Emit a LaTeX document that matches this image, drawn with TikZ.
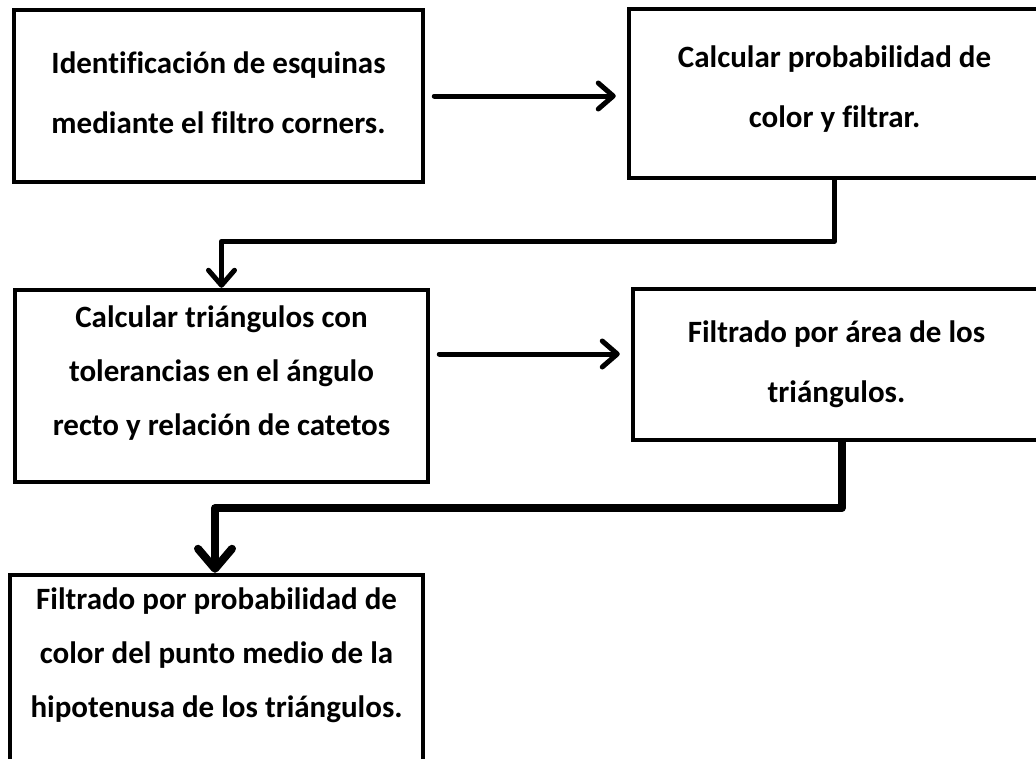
\documentclass[tikz,border=0pt]{standalone}
\usepackage{fontspec}
\setmainfont[Ligatures=NoCommon]{Carlito}
\usepackage{tikz}
\usetikzlibrary{arrows.meta,calc}

\begin{document}
\begin{tikzpicture}[x=1pt, y=-1pt,
        caja/.style={draw=black, line width=4.5pt, inner sep=0pt, align=center,
            font=\bfseries\fontsize{31}{60}\selectfont},
        flecha/.style={draw=black, line width=5pt, line cap=round, line join=round,
            -{Straight Barb[length=15pt, width=26pt, line cap=round, line join=round]}},
        flechagruesa/.style={flecha, line width=8pt, line cap=butt,
            -{Straight Barb[length=20pt, width=34pt, line cap=round, line join=round]}}]
        \useasboundingbox (0,0) rectangle (1036,758);
        \clip (0,0) rectangle (1036,758);
        % cajas
        \node [caja, minimum width=409pt, minimum height=172pt, text depth=6pt] (ident) at (218.5,96)
            {Identificación de esquinas\\mediante el filtro corners.};
        \node [caja, minimum width=411pt, minimum height=169pt, text depth=14pt] (prob) at (834.5,93.5)
            {Calcular probabilidad de\\color y filtrar.};
        \node [caja, minimum width=413pt, minimum height=192pt, text depth=31pt,
            font=\bfseries\fontsize{31}{54}\selectfont] (tri) at (221.5,386)
            {Calcular triángulos con\\tolerancias en el ángulo\\recto y relación de catetos};
        \node [caja, minimum width=407pt, minimum height=151pt] (area) at (836.5,364.5)
            {Filtrado por área de los\\triángulos.};
        \node [caja, minimum width=413pt, minimum height=215pt, text depth=60pt,
            font=\bfseries\fontsize{31}{54}\selectfont] (hipo) at (216.5,682.5)
            {Filtrado por probabilidad de\\color del punto medio de la\\hipotenusa de los triángulos.};
        % conectores
        \coordinate (a1) at ([xshift=9pt]ident.east);
        \coordinate (a2) at ([xshift=9pt, yshift=32pt]tri.east);
        \draw [flecha] (a1) -- ([xshift=-11pt]a1 -| prob.west);
        \draw [flecha] (a2) -- ([xshift=-11pt]a2 -| area.west);
        \draw [flecha] (prob.south) -- ++(0,61) -| (tri.north);
        \draw [flechagruesa] ([xshift=5pt]area.south) -- ++(0,66) -| ([xshift=-1.5pt]hipo.north);
\end{tikzpicture}
\end{document}
